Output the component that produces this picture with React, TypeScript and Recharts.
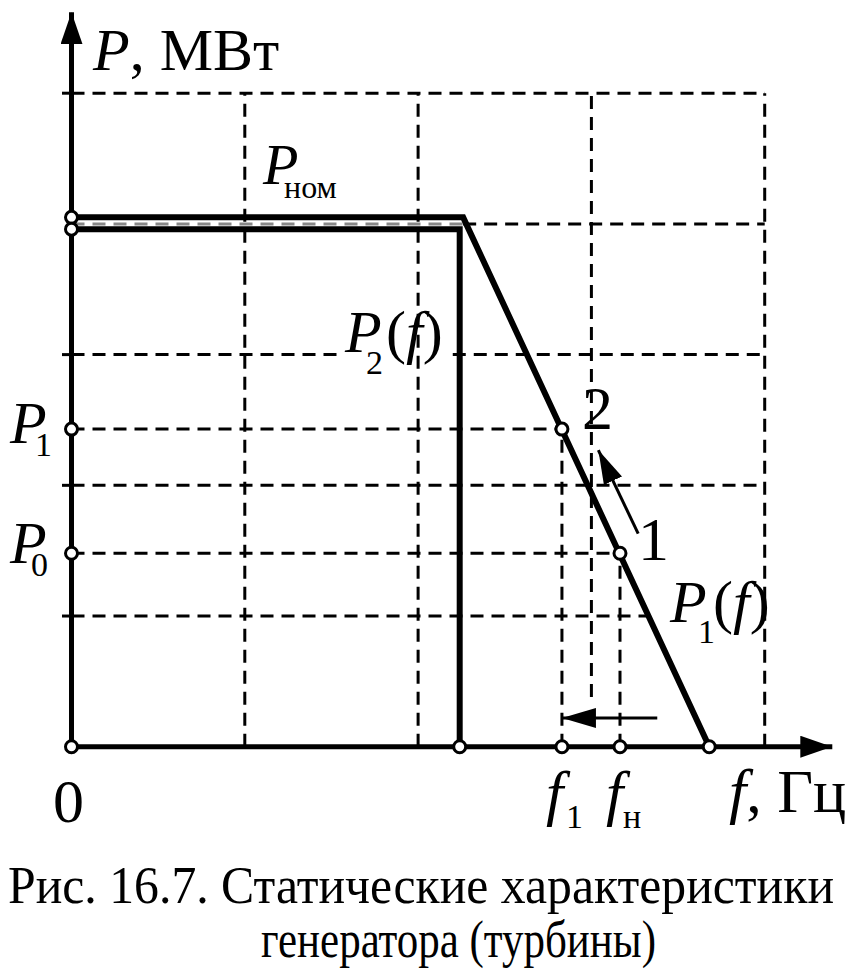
import React from "react";
import {
  ComposedChart,
  Line,
  Scatter,
  XAxis,
  YAxis,
  ReferenceLine,
} from "recharts";

// values: 1 grid cell = 1 unit on both axes
const pNomUpper = 4.05;
const pNomLower = 3.96;
const p1 = 2.43;
const p0 = 1.48;
const f1 = 2.83;
const fN = 3.165;
const fKnee = 2.24;
const fKneeTop = 2.26;
const fMax = 3.68;

const gridX = [1, 2, 4];
const gridYFull = [2, 5];
const tickY = [1, 2, 3, 5];

const curveP1 = [
  { x: 0, y: pNomUpper },
  { x: fKneeTop, y: pNomUpper },
  { x: fMax, y: 0 },
];
const curveP2 = [
  { x: 0, y: pNomLower },
  { x: fKnee, y: pNomLower },
  { x: fKnee, y: 0 },
];
const points = [
  { x: 0, y: pNomUpper },
  { x: 0, y: pNomLower },
  { x: 0, y: p1 },
  { x: 0, y: p0 },
  { x: 0, y: 0 },
  { x: fKnee, y: 0 },
  { x: f1, y: 0 },
  { x: fN, y: 0 },
  { x: fMax, y: 0 },
  { x: f1, y: p1 },
  { x: fN, y: p0 },
];
const axisX = [
  { x: 0, y: 0 },
  { x: 4.39, y: 0 },
];
const axisY = [
  { x: 0, y: 0 },
  { x: 0, y: 5.62 },
];
const moveArrow = [
  { x: 3.27, y: 1.63 },
  { x: 3.04, y: 2.27 },
];
const freqArrow = [
  { x: 3.38, y: 0.22 },
  { x: f1, y: 0.22 },
];

const captionLines = [
  "Рис. 16.7. Статические характеристики",
  "генератора (турбины)",
];

const W = 866;
const H = 976;
const X_DOMAIN: [number, number] = [-0.4126, 4.5845];
const Y_DOMAIN: [number, number] = [-1.754, 5.713];
const DASH = "13 8";
const FONT = "'Liberation Serif', 'Times New Roman', serif";

const seg = (x1: number, y1: number, x2: number, y2: number, key: string, color = "#000") => (
  <ReferenceLine
    key={key}
    segment={[
      { x: x1, y: y1 },
      { x: x2, y: y2 },
    ]}
    stroke={color}
    strokeWidth={3}
    strokeDasharray={DASH}
    ifOverflow="visible"
  />
);

const Ring = (props: any) => (
  <circle cx={props.cx} cy={props.cy} r={6} fill="#fff" stroke="#000" strokeWidth={3} />
);

export default function App() {
  return (
    <div style={{ position: "absolute", left: 0, top: 0, width: W, height: H, background: "#fff" }}>
      <svg width={0} height={0} style={{ position: "absolute" }}>
        <defs>
          <marker id="axisHead" viewBox="0 0 32 22" refX={32} refY={11} markerWidth={32} markerHeight={22} markerUnits="userSpaceOnUse" orient="auto">
            <path d="M0,0 L32,11 L0,22 Z" fill="#000" />
          </marker>
          <marker id="smallHead" viewBox="0 0 34 20" refX={34} refY={10} markerWidth={34} markerHeight={20} markerUnits="userSpaceOnUse" orient="auto">
            <path d="M0,0 L34,10 L0,20 Z" fill="#000" />
          </marker>
        </defs>
      </svg>
      <ComposedChart width={W} height={H} margin={{ top: 0, right: 0, bottom: 0, left: 0 }}>
        <XAxis type="number" dataKey="x" domain={X_DOMAIN} allowDataOverflow hide />
        <YAxis type="number" dataKey="y" domain={Y_DOMAIN} allowDataOverflow hide />

        {gridX.map((gx) => seg(gx, 0, gx, 5, `vx${gx}`))}
        {seg(3, 0.38, 3, 5, "vx3")}
        {gridYFull.map((gy) => seg(0, gy, 4, gy, `hy${gy}`))}
        {seg(0, 4, fKneeTop, 4, "hy4a", "#888")}
        {seg(fKneeTop, 4, 4, 4, "hy4b")}
        {seg(0, 3, 1.55, 3, "hy3a")}
        {seg(2.2, 3, 4, 3, "hy3b")}
        {seg(0, 1, 3.32, 1, "hy1")}
        {seg(0, p1, f1, p1, "p1h")}
        {seg(0, p0, fN, p0, "p0h")}
        {seg(f1, 0, f1, p1, "f1v")}
        {seg(fN, 0, fN, p0, "fnv")}
        {tickY.map((ty) => (
          <ReferenceLine
            key={`t${ty}`}
            segment={[
              { x: -0.055, y: ty },
              { x: 0, y: ty },
            ]}
            stroke="#000"
            strokeWidth={3}
            ifOverflow="visible"
          />
        ))}

        <Line data={axisX} dataKey="y" type="linear" stroke="#000" strokeWidth={5} dot={false} activeDot={false} markerEnd="url(#axisHead)" isAnimationActive={false} />
        <Line data={axisY} dataKey="y" type="linear" stroke="#000" strokeWidth={5} dot={false} activeDot={false} markerEnd="url(#axisHead)" isAnimationActive={false} />
        <Line data={curveP2} dataKey="y" type="linear" stroke="#000" strokeWidth={6} dot={false} activeDot={false} isAnimationActive={false} />
        <Line data={curveP1} dataKey="y" type="linear" stroke="#000" strokeWidth={6} dot={false} activeDot={false} isAnimationActive={false} />
        <Line data={moveArrow} dataKey="y" type="linear" stroke="#000" strokeWidth={3} dot={false} activeDot={false} markerEnd="url(#smallHead)" isAnimationActive={false} />
        <Line data={freqArrow} dataKey="y" type="linear" stroke="#000" strokeWidth={3} dot={false} activeDot={false} markerEnd="url(#smallHead)" isAnimationActive={false} />
        <Scatter data={points} dataKey="y" shape={Ring} isAnimationActive={false} />
      </ComposedChart>

      <svg width={W} height={H} style={{ position: "absolute", left: 0, top: 0, pointerEvents: "none" }} fontFamily={FONT} fill="#000">
        <text x={93} y={70} fontSize={60}>
          <tspan fontStyle="italic">P</tspan>, МВт
        </text>

        <text x={263} y={184} fontSize={58} fontStyle="italic">P</text>
        <text x={284} y={198} fontSize={32}>ном</text>

        <text x={345} y={352} fontSize={60} fontStyle="italic">P</text>
        <text x={366} y={374} fontSize={34}>2</text>
        <text x={386} y={352} fontSize={60}>
          (<tspan fontStyle="italic">f</tspan>)
        </text>

        <text x={10} y={443} fontSize={60} fontStyle="italic">P</text>
        <text x={35} y={456} fontSize={34}>1</text>
        <text x={10} y={563} fontSize={60} fontStyle="italic">P</text>
        <text x={31} y={576} fontSize={34}>0</text>

        <text x={582} y={429} fontSize={62}>2</text>
        <text x={638} y={560} fontSize={62}>1</text>

        <text x={670} y={622} fontSize={60} fontStyle="italic">P</text>
        <text x={698} y={643} fontSize={34}>1</text>
        <text x={713} y={622} fontSize={60}>
          (<tspan fontStyle="italic">f</tspan>)
        </text>

        <text x={53} y={822} fontSize={62}>0</text>

        <text x={546} y={814} fontSize={62} fontStyle="italic">f</text>
        <text x={566} y={828} fontSize={34}>1</text>
        <text x={606} y={814} fontSize={62} fontStyle="italic">f</text>
        <text x={623} y={828} fontSize={34}>н</text>
        <text x={729} y={812} fontSize={62}>
          <tspan fontStyle="italic">f</tspan>, Гц
        </text>

        <text x={8} y={903} fontSize={52} textLength={826} lengthAdjust="spacingAndGlyphs">
          {captionLines[0]}
        </text>
        <text x={261} y={957} fontSize={52} textLength={395} lengthAdjust="spacingAndGlyphs">
          {captionLines[1]}
        </text>
      </svg>
    </div>
  );
}
